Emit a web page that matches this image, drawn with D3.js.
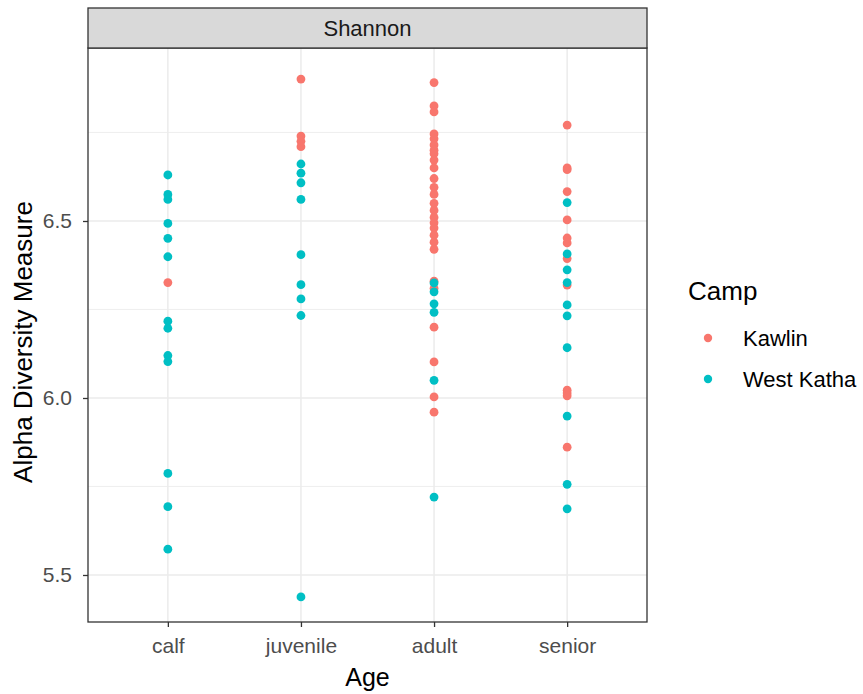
<!DOCTYPE html>
<html>
<head>
<meta charset="utf-8">
<script src="https://cdn.jsdelivr.net/npm/d3@7"></script>
<style>
  body { margin: 0; background: #fff; }
  svg text { font-family: "Liberation Sans", Arial, sans-serif; }
</style>
</head>
<body>
<div id="chart"></div>
<script>
// categorias y datos
var ages = ["calf", "juvenile", "adult", "senior"];
var camps = ["Kawlin", "West Katha"];
var campColors = ["#F8766D", "#00BFC4"];
var yTicks = [5.5, 6.0, 6.5];
var yMinor = [5.75, 6.25, 6.75];

var kawlinCalf = [6.326];
var westKathaCalf = [6.630, 6.575, 6.561, 6.493, 6.451, 6.399, 6.217, 6.197, 6.120, 6.103, 5.787, 5.693, 5.573];

var kawlinJuvenile = [6.901, 6.740, 6.725, 6.710];
var westKathaJuvenile = [6.661, 6.635, 6.608, 6.561, 6.405, 6.320, 6.280, 6.233, 5.438];

var kawlinAdult = [6.891, 6.825, 6.808, 6.746, 6.732, 6.715, 6.700, 6.690, 6.672, 6.650, 6.620,
  6.595, 6.575, 6.550, 6.530, 6.510, 6.495, 6.480, 6.460, 6.440, 6.420, 6.330, 6.310,
  6.200, 6.102, 6.003, 5.960];
var westKathaAdult = [6.325, 6.300, 6.266, 6.242, 6.050, 5.720];

var kawlinSenior = [6.771, 6.650, 6.645, 6.583, 6.503, 6.452, 6.438, 6.394, 6.319, 6.022, 6.014, 6.006, 5.861];
var westKathaSenior = [6.552, 6.407, 6.362, 6.326, 6.263, 6.232, 6.142, 5.949, 5.756, 5.687];

var groups = [
  { age: "calf", camp: "Kawlin", values: kawlinCalf },
  { age: "calf", camp: "West Katha", values: westKathaCalf },
  { age: "juvenile", camp: "Kawlin", values: kawlinJuvenile },
  { age: "juvenile", camp: "West Katha", values: westKathaJuvenile },
  { age: "adult", camp: "Kawlin", values: kawlinAdult },
  { age: "adult", camp: "West Katha", values: westKathaAdult },
  { age: "senior", camp: "Kawlin", values: kawlinSenior },
  { age: "senior", camp: "West Katha", values: westKathaSenior }
];

var points = [];
groups.forEach(function (g) {
  g.values.forEach(function (v) {
    points.push({ age: g.age, camp: g.camp, value: v });
  });
});

var width = 863, height = 694;
var panel = { left: 88, right: 647, top: 48, bottom: 622 };
var stripTop = 8;

var svg = d3.select("#chart").append("svg")
  .attr("width", width)
  .attr("height", height);

// escalas
var xScale = d3.scalePoint()
  .domain(ages)
  .range([panel.left, panel.right])
  .padding(0.6);

var yScale = d3.scaleLinear()
  .domain([5.3672, 6.9887])
  .range([panel.bottom, panel.top]);

var color = d3.scaleOrdinal().domain(camps).range(campColors);

// grid
var grid = svg.append("g");
grid.selectAll(".minor")
  .data(yMinor)
  .enter()
  .append("line")
  .attr("x1", panel.left).attr("x2", panel.right)
  .attr("y1", function (d) { return yScale(d); })
  .attr("y2", function (d) { return yScale(d); })
  .attr("stroke", "#ebebeb").attr("stroke-width", 0.8);
grid.selectAll(".major")
  .data(yTicks)
  .enter()
  .append("line")
  .attr("x1", panel.left).attr("x2", panel.right)
  .attr("y1", function (d) { return yScale(d); })
  .attr("y2", function (d) { return yScale(d); })
  .attr("stroke", "#ebebeb").attr("stroke-width", 1.5);
grid.selectAll(".vmajor")
  .data(ages)
  .enter()
  .append("line")
  .attr("y1", panel.top).attr("y2", panel.bottom)
  .attr("x1", function (d) { return xScale(d); })
  .attr("x2", function (d) { return xScale(d); })
  .attr("stroke", "#ebebeb").attr("stroke-width", 1.5);

// puntos
svg.append("g")
  .selectAll("circle")
  .data(points)
  .enter()
  .append("circle")
  .attr("cx", function (d) { return xScale(d.age); })
  .attr("cy", function (d) { return yScale(d.value); })
  .attr("r", 4.4)
  .attr("fill", function (d) { return color(d.camp); });

// borde del panel
svg.append("rect")
  .attr("x", panel.left).attr("y", panel.top)
  .attr("width", panel.right - panel.left)
  .attr("height", panel.bottom - panel.top)
  .attr("fill", "none").attr("stroke", "#333333").attr("stroke-width", 1.3);

// strip
svg.append("rect")
  .attr("x", panel.left).attr("y", stripTop)
  .attr("width", panel.right - panel.left)
  .attr("height", panel.top - stripTop)
  .attr("fill", "#d9d9d9").attr("stroke", "#333333").attr("stroke-width", 1.3);
svg.append("text")
  .attr("x", (panel.left + panel.right) / 2)
  .attr("y", (stripTop + panel.top) / 2)
  .attr("dy", "0.35em")
  .attr("text-anchor", "middle")
  .attr("font-size", 22)
  .attr("fill", "#1a1a1a")
  .text("Shannon");

// ejes
var x_axis = d3.axisBottom(xScale).tickSize(5).tickPadding(11);
var y_axis = d3.axisLeft(yScale).tickValues(yTicks).tickFormat(d3.format(".1f")).tickSize(5).tickPadding(11);

var gx = svg.append("g")
  .attr("transform", "translate(0," + panel.bottom + ")")
  .call(x_axis);
var gy = svg.append("g")
  .attr("transform", "translate(" + panel.left + ",0)")
  .call(y_axis);
[gx, gy].forEach(function (g) {
  g.select(".domain").remove();
  g.selectAll(".tick line").attr("stroke", "#333333").attr("stroke-width", 1.3);
  g.selectAll(".tick text")
    .attr("fill", "#4d4d4d")
    .attr("font-size", 21)
    .style("font-family", "'Liberation Sans', Arial, sans-serif");
});

// titulos
svg.append("text")
  .attr("x", (panel.left + panel.right) / 2)
  .attr("y", 686)
  .attr("text-anchor", "middle")
  .attr("font-size", 25)
  .attr("fill", "#000")
  .text("Age");

svg.append("text")
  .attr("transform", "translate(32,342) rotate(-90)")
  .attr("text-anchor", "middle")
  .attr("font-size", 26)
  .attr("fill", "#000")
  .text("Alpha Diversity Measure");

// leyenda
var legend = svg.append("g").attr("transform", "translate(688,0)");
legend.append("text")
  .attr("x", 0).attr("y", 300)
  .attr("font-size", 26)
  .attr("fill", "#000")
  .text("Camp");
var keys = legend.selectAll(".key")
  .data(camps)
  .enter()
  .append("g")
  .attr("transform", function (d, i) { return "translate(0," + (338 + i * 41) + ")"; });
keys.append("circle")
  .attr("cx", 20).attr("cy", 0).attr("r", 4.2)
  .attr("fill", function (d) { return color(d); });
keys.append("text")
  .attr("x", 55).attr("y", 0).attr("dy", "0.35em")
  .attr("font-size", 22)
  .attr("fill", "#000")
  .text(function (d) { return d; });
</script>
</body>
</html>
